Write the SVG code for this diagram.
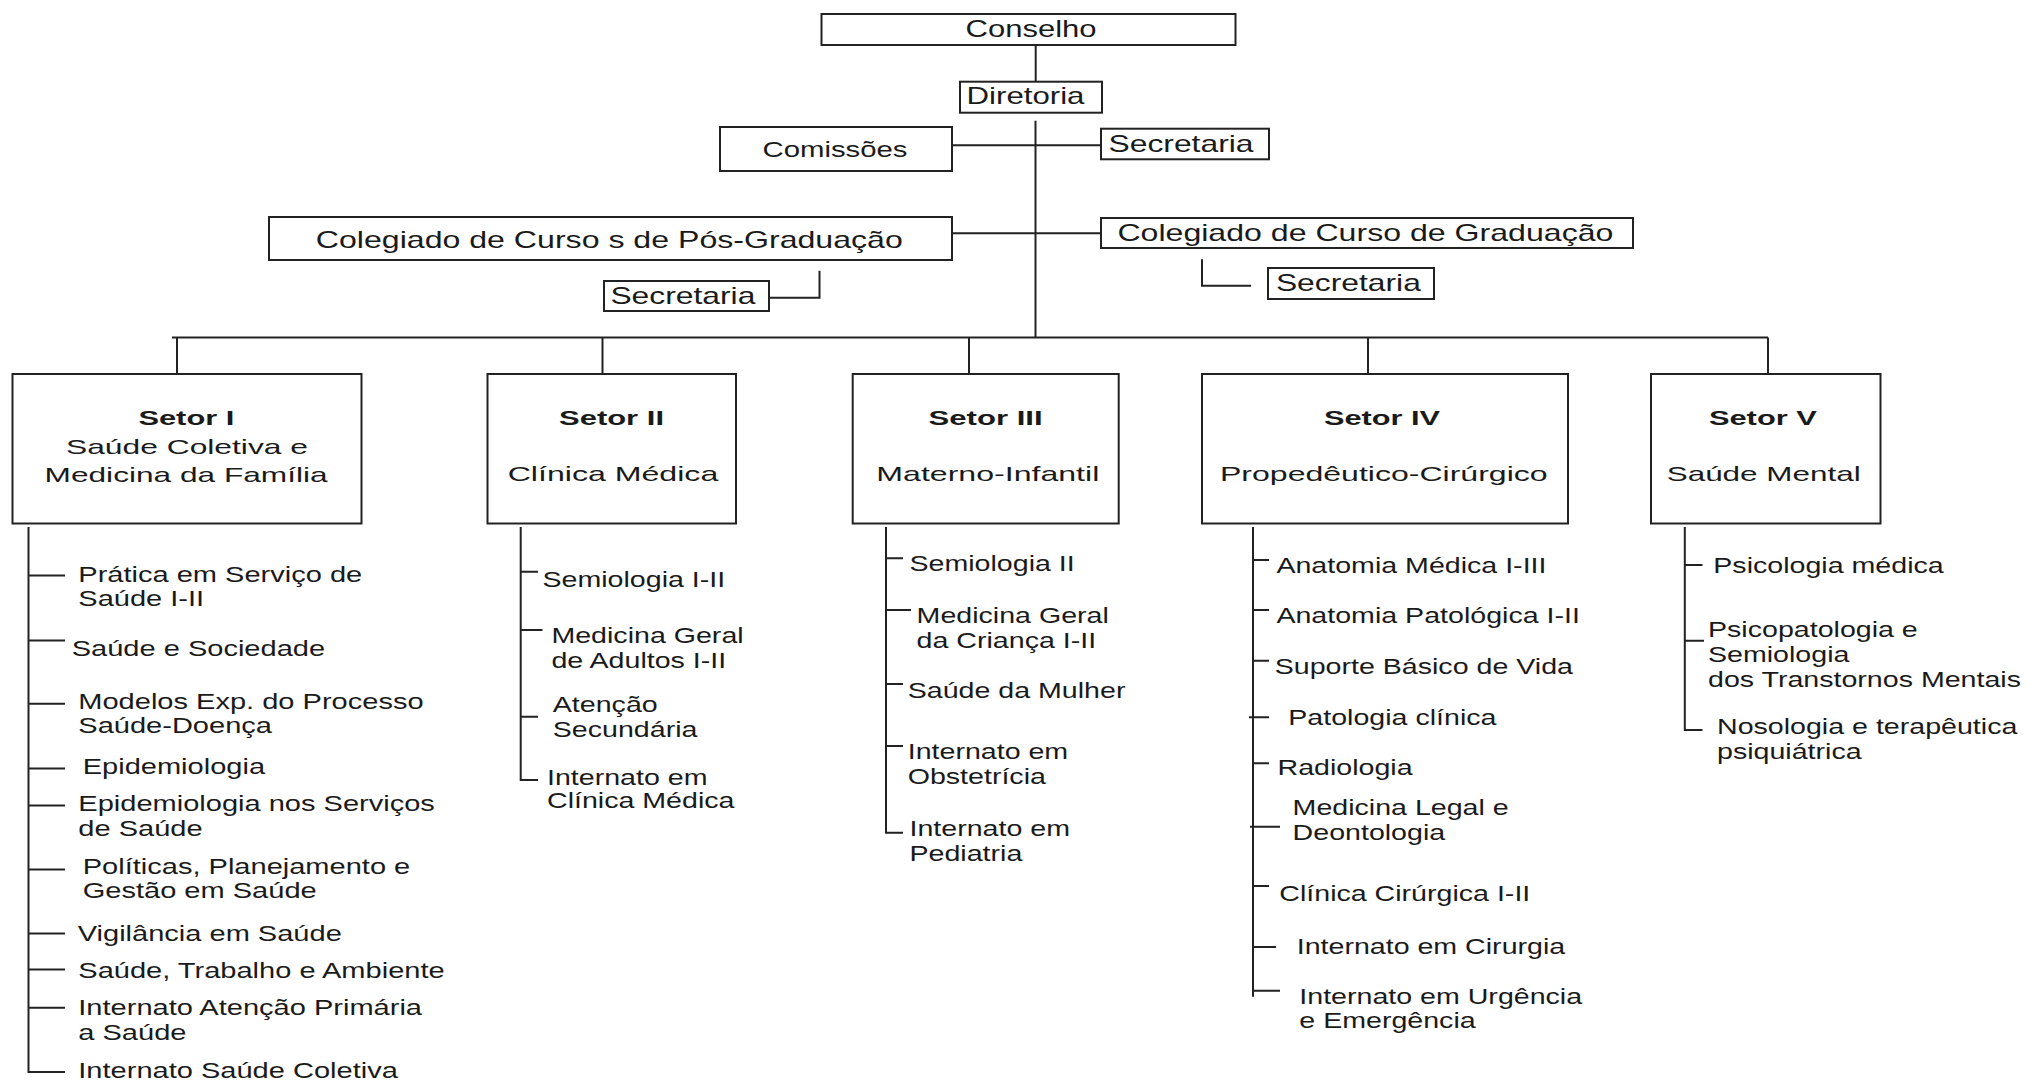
<svg xmlns="http://www.w3.org/2000/svg" width="2029" height="1080" viewBox="0 0 2029 1080">
<style>
.box{fill:#fff;stroke:#222;stroke-width:2}
.conn{fill:none;stroke:#222;stroke-width:2}
.t{font-family:"Liberation Sans",Arial,Helvetica,sans-serif;fill:#1a1a1a}
.f24{font-size:24px}
.f22{font-size:22px}
.hd{font-size:21px;font-weight:bold}
.sb{font-size:21px}
.li{font-size:22px}
</style>
<rect width="2029" height="1080" fill="#fff"/>

<g id="connectors">
<path class="conn" d="M1035.7 45V81.7"/>
<path class="conn" d="M1035.5 120.7V337.5"/>
<path class="conn" d="M952 145.3H1101"/>
<path class="conn" d="M952 233.3H1101"/>
<path class="conn" d="M769 297.7H819.5V270.7"/>
<path class="conn" d="M1202 259.3V285.7H1251"/>
<path class="conn" d="M172 337.5H1768"/>
<path class="conn" d="M177 337.5V374M602.5 337.5V374M969 337.5V374M1368 337.5V374M1768 337.5V374"/>
<!-- Setor I list -->
<path class="conn" d="M28.5 527V1072H65M28.5 575.6H65M28.5 640.5H65M28.5 703.7H65M28.5 768.6H65M28.5 805.4H65M28.5 869.6H65M28.5 933.5H65M28.5 969.6H65M28.5 1007.8H65"/>
<!-- Setor II list -->
<path class="conn" d="M520.7 527V780H538M520.7 571.7H538M520.7 630H542.5M520.7 716.7H538"/>
<!-- Setor III list -->
<path class="conn" d="M886 527V832.7H903M886 558.3H903M886 610H911M886 684H903M886 746H903"/>
<!-- Setor IV list -->
<path class="conn" d="M1253 527V996.7M1253 560H1269M1253 610H1269M1253 660.7H1269M1249 717.3H1269M1253 763.3H1269M1250 826.7H1280M1253 886H1269M1253 947H1276M1253 990.7H1280"/>
<!-- Setor V list -->
<path class="conn" d="M1684.8 527V730H1702.5M1684.8 565H1702.5M1684.8 640.7H1704"/>
</g>

<g id="conselho">
<rect class="box" x="821.5" y="14" width="414" height="31"/>
<text class="t f24" x="965.6" y="37.3" textLength="131" lengthAdjust="spacingAndGlyphs">Conselho</text>
</g>
<g id="diretoria">
<rect class="box" x="960" y="81.7" width="142" height="31"/>
<text class="t f24" x="966.5" y="104.3" textLength="118" lengthAdjust="spacingAndGlyphs">Diretoria</text>
</g>
<g id="comissoes">
<rect class="box" x="720" y="127" width="232" height="44"/>
<text class="t f22" x="762.5" y="156.7" textLength="145" lengthAdjust="spacingAndGlyphs">Comissões</text>
</g>
<g id="secretaria-diretoria">
<rect class="box" x="1101" y="128.7" width="168" height="30.6"/>
<text class="t f24" x="1108.5" y="151.7" textLength="145" lengthAdjust="spacingAndGlyphs">Secretaria</text>
</g>
<g id="colegiado-pos">
<rect class="box" x="269" y="217" width="683" height="43"/>
<text class="t f24" x="315.8" y="248.3" textLength="587" lengthAdjust="spacingAndGlyphs">Colegiado de Curso s de Pós-Graduação</text>
</g>
<g id="colegiado-grad">
<rect class="box" x="1101" y="218" width="532" height="30"/>
<text class="t f24" x="1117.4" y="240.7" textLength="496" lengthAdjust="spacingAndGlyphs">Colegiado de Curso de Graduação</text>
</g>
<g id="secretaria-pos">
<rect class="box" x="604" y="281" width="165" height="30"/>
<text class="t f24" x="610.4" y="304" textLength="145" lengthAdjust="spacingAndGlyphs">Secretaria</text>
</g>
<g id="secretaria-grad">
<rect class="box" x="1268" y="268" width="166" height="31"/>
<text class="t f24" x="1275.9" y="290.7" textLength="145" lengthAdjust="spacingAndGlyphs">Secretaria</text>
</g>

<g id="setor1">
<rect class="box" x="12.5" y="374" width="349" height="149.5"/>
<text class="t hd" x="138.4" y="425" textLength="96" lengthAdjust="spacingAndGlyphs">Setor I</text>
<text class="t sb" x="66" y="454" textLength="242" lengthAdjust="spacingAndGlyphs">Saúde Coletiva e</text>
<text class="t sb" x="44.6" y="481.7" textLength="283" lengthAdjust="spacingAndGlyphs">Medicina da Família</text>
</g>
<g id="setor2">
<rect class="box" x="487.5" y="374" width="248.5" height="149.5"/>
<text class="t hd" x="559" y="424.5" textLength="105" lengthAdjust="spacingAndGlyphs">Setor II</text>
<text class="t sb" x="507.7" y="480.5" textLength="210.6" lengthAdjust="spacingAndGlyphs">Clínica Médica</text>
</g>
<g id="setor3">
<rect class="box" x="852.7" y="374" width="266" height="149.5"/>
<text class="t hd" x="928.6" y="425" textLength="114" lengthAdjust="spacingAndGlyphs">Setor III</text>
<text class="t sb" x="876.3" y="480.7" textLength="223" lengthAdjust="spacingAndGlyphs">Materno-Infantil</text>
</g>
<g id="setor4">
<rect class="box" x="1202" y="374" width="366" height="149.5"/>
<text class="t hd" x="1324" y="425" textLength="116" lengthAdjust="spacingAndGlyphs">Setor IV</text>
<text class="t sb" x="1220" y="480.7" textLength="327.6" lengthAdjust="spacingAndGlyphs">Propedêutico-Cirúrgico</text>
</g>
<g id="setor5">
<rect class="box" x="1651" y="374" width="229.5" height="149.5"/>
<text class="t hd" x="1708.9" y="425" textLength="108" lengthAdjust="spacingAndGlyphs">Setor V</text>
<text class="t sb" x="1666.7" y="480.7" textLength="194" lengthAdjust="spacingAndGlyphs">Saúde Mental</text>
</g>

<g id="setor1-itens">
<text class="t li" transform="matrix(1.32 0 0 1 78.3 581.9)">Prática em Serviço de<tspan x="0" dy="24.6">Saúde I-II</tspan></text>
<text class="t li" transform="matrix(1.32 0 0 1 71.7 656.3)">Saúde e Sociedade</text>
<text class="t li" transform="matrix(1.32 0 0 1 78.3 709)">Modelos Exp. do Processo<tspan x="0" dy="24.5">Saúde-Doença</tspan></text>
<text class="t li" transform="matrix(1.32 0 0 1 82.7 773.9)">Epidemiologia</text>
<text class="t li" transform="matrix(1.32 0 0 1 78.3 810.7)">Epidemiologia nos Serviços<tspan x="0" dy="25">de Saúde</tspan></text>
<text class="t li" transform="matrix(1.32 0 0 1 82.7 873.9)">Políticas, Planejamento e<tspan x="0" dy="24.5">Gestão em Saúde</tspan></text>
<text class="t li" transform="matrix(1.32 0 0 1 77.7 941.2)">Vigilância em Saúde</text>
<text class="t li" transform="matrix(1.32 0 0 1 78.3 977.5)">Saúde, Trabalho e Ambiente</text>
<text class="t li" transform="matrix(1.32 0 0 1 78.3 1015)">Internato Atenção Primária<tspan x="0" dy="25">a Saúde</tspan></text>
<text class="t li" transform="matrix(1.32 0 0 1 78.3 1077.5)">Internato Saúde Coletiva</text>
</g>

<g id="setor2-itens">
<text class="t li" transform="matrix(1.3 0 0 1 542.5 586.7)">Semiologia I-II</text>
<text class="t li" transform="matrix(1.3 0 0 1 551.4 643.3)">Medicina Geral<tspan x="0" dy="24.4">de Adultos I-II</tspan></text>
<text class="t li" transform="matrix(1.3 0 0 1 552.8 711.7)">Atenção<tspan x="0" dy="25">Secundária</tspan></text>
<text class="t li" transform="matrix(1.3 0 0 1 547 785)">Internato em<tspan x="0" dy="23.3">Clínica Médica</tspan></text>
</g>

<g id="setor3-itens">
<text class="t li" transform="matrix(1.3 0 0 1 909.5 570.7)">Semiologia II</text>
<text class="t li" transform="matrix(1.3 0 0 1 916.6 623.3)">Medicina Geral<tspan x="0" dy="25">da Criança I-II</tspan></text>
<text class="t li" transform="matrix(1.3 0 0 1 907.7 698.3)">Saúde da Mulher</text>
<text class="t li" transform="matrix(1.3 0 0 1 907.7 759.3)">Internato em<tspan x="0" dy="24.7">Obstetrícia</tspan></text>
<text class="t li" transform="matrix(1.3 0 0 1 909.5 836)">Internato em<tspan x="0" dy="24.7">Pediatria</tspan></text>
</g>

<g id="setor4-itens">
<text class="t li" transform="matrix(1.3 0 0 1 1276.4 572.7)">Anatomia Médica I-III</text>
<text class="t li" transform="matrix(1.3 0 0 1 1276.4 623.3)">Anatomia Patológica I-II</text>
<text class="t li" transform="matrix(1.3 0 0 1 1274.7 674)">Suporte Básico de Vida</text>
<text class="t li" transform="matrix(1.3 0 0 1 1288.3 725)">Patologia clínica</text>
<text class="t li" transform="matrix(1.3 0 0 1 1277.5 775)">Radiologia</text>
<text class="t li" transform="matrix(1.3 0 0 1 1292.6 815)">Medicina Legal e<tspan x="0" dy="25">Deontologia</tspan></text>
<text class="t li" transform="matrix(1.3 0 0 1 1279.3 900.7)">Clínica Cirúrgica I-II</text>
<text class="t li" transform="matrix(1.3 0 0 1 1296.7 954)">Internato em Cirurgia</text>
<text class="t li" transform="matrix(1.3 0 0 1 1299.3 1004)">Internato em Urgência<tspan x="0" dy="24.3">e Emergência</tspan></text>
</g>

<g id="setor5-itens">
<text class="t li" transform="matrix(1.3 0 0 1 1713.3 572.7)">Psicologia médica</text>
<text class="t li" transform="matrix(1.3 0 0 1 1708 637.3)">Psicopatologia e<tspan x="0" dy="24.4">Semiologia</tspan><tspan x="0" dy="25">dos Transtornos Mentais</tspan></text>
<text class="t li" transform="matrix(1.3 0 0 1 1717 734)">Nosologia e terapêutica<tspan x="0" dy="25.3">psiquiátrica</tspan></text>
</g>
</svg>
